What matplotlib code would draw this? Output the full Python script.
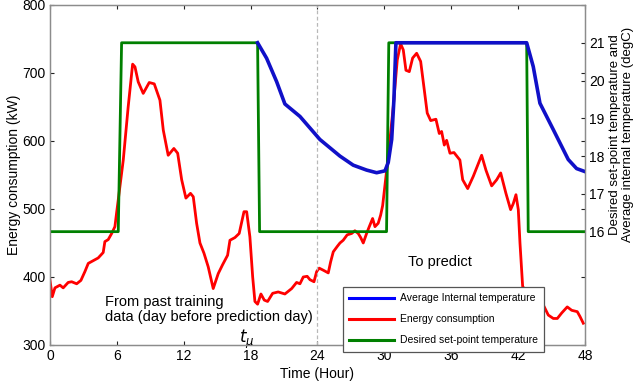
import matplotlib
matplotlib.use("Agg")
import matplotlib.pyplot as plt
from matplotlib.lines import Line2D

plt.rcParams['font.family'] = ['Liberation Sans', 'DejaVu Sans']

# Energy consumption (kW) vs time (hour)
energy_t = [0.00, 0.21, 0.45, 0.90, 1.19, 1.64, 1.95, 2.40, 2.78, 3.14, 3.44, 3.88, 4.33, 4.78,
            4.93, 5.23, 5.54, 5.83, 5.98, 6.58, 7.02, 7.42, 7.63, 7.92, 8.37, 8.91, 9.36, 9.87,
            10.17, 10.61, 11.12, 11.46, 11.82, 12.20, 12.61, 12.86, 13.16, 13.46, 13.82, 14.20,
            14.65, 15.10, 15.49, 15.94, 16.15, 16.60, 16.98, 17.41, 17.65, 17.94, 18.19, 18.39,
            18.63, 18.93, 19.23, 19.53, 19.98, 20.48, 21.08, 21.69, 22.13, 22.43, 22.73, 23.08,
            23.33, 23.69, 23.93, 24.16, 24.52, 24.97, 25.18, 25.42, 25.78, 26.02, 26.31, 26.67,
            27.07, 27.36, 27.66, 27.88, 28.11, 28.41, 28.65, 28.95, 29.16, 29.45, 29.67, 29.85,
            30.35, 30.80, 31.16, 31.46, 31.70, 31.94, 32.24, 32.54, 32.90, 33.26, 33.55, 33.85,
            34.16, 34.63, 34.93, 35.14, 35.38, 35.59, 35.89, 36.25, 36.78, 37.03, 37.48, 37.98,
            38.73, 39.12, 39.63, 40.08, 40.44, 40.91, 41.33, 41.57, 41.81, 42.02, 42.17, 42.41,
            43.24, 44.20, 44.71, 45.16, 45.52, 45.91, 46.41, 46.81, 47.31, 47.55, 47.85]
energy_kw = [396, 371, 384, 388, 384, 392, 393, 390, 395, 408, 420, 424, 428, 436,
             452, 455, 464, 474, 494, 572, 650, 713, 709, 687, 670, 686, 684, 660,
             616, 579, 589, 582, 543, 516, 523, 518, 479, 450, 435, 415,
             383, 405, 418, 432, 454, 458, 464, 496, 496, 459, 400, 364,
             360, 375, 366, 364, 376, 378, 375, 383, 392, 390, 400, 401,
             396, 393, 408, 413, 410, 406, 422, 437, 445, 450, 454, 462,
             464, 468, 464, 458, 450, 464, 474, 486, 474, 479, 491, 505,
             577, 650, 719, 743, 734, 704, 702, 722, 729, 717, 680, 641,
             630, 632, 611, 614, 594, 601, 582, 583, 572, 543, 530, 548,
             579, 557, 534, 543, 553, 523, 499, 508, 521, 499, 450, 386,
             368, 361, 344, 339, 339, 347, 356, 351, 349, 342, 332]

# Average internal temperature (degC)
internal_t = [18.63, 19.44, 20.34, 21.08, 22.43, 24.22, 26.02, 27.21, 28.41, 29.31, 30.06,
              30.35, 30.66, 30.86, 31.04, 42.77, 43.36, 43.96, 45.16, 46.50, 47.25, 48.00]
internal_c = [21.0, 20.59, 19.97, 19.38, 19.05, 18.44, 18.0, 17.76, 17.63, 17.56, 17.61,
              17.83, 18.44, 19.49, 21.0, 21.0, 20.37, 19.4, 18.7, 17.91, 17.67, 17.59]

# Desired set-point temperature (degC)
setpoint_t = [0, 6.13, 6.43, 18.63, 18.81, 30.2, 30.4, 42.77, 42.91, 48]
setpoint_c = [16, 16, 21, 21, 16, 16, 21, 21, 16, 16]

xticks = [0, 6, 12, 18, 24, 30, 36, 42, 48]
left_ticks = [300, 400, 500, 600, 700, 800]
right_ticks = [16, 17, 18, 19, 20, 21]

fig = plt.figure(figsize=(6.4, 3.84), dpi=100)
ax1 = fig.add_axes([0.078, 0.1016, 0.836, 0.8854])
ax2 = ax1.twinx()

c_red = '#ff0000'
c_green = '#008000'
c_blue = '#1010c8'

ax1.plot(energy_t, energy_kw, color=c_red, lw=2.0)
ax1.axvline(24, color='#b8b8b8', lw=0.9, ls=(0, (3, 2)))
ax2.plot(setpoint_t, setpoint_c, color=c_green, lw=2.0)
ax2.plot(internal_t, internal_c, color=c_blue, lw=2.6)

ax1.set_xlim(0, 48)
ax1.set_ylim(300, 800)
ax2.set_ylim(13, 22)
ax1.set_xticks(xticks)
ax1.set_yticks(left_ticks)
ax2.set_yticks(right_ticks)

fs = 10
ax1.tick_params(direction='in', top=True, right=True, length=3, labelsize=fs, color='#222222', pad=3)
ax2.tick_params(direction='in', length=3, labelsize=fs, color='#222222', pad=3)
for ax in (ax1, ax2):
    for s in ax.spines.values():
        s.set_color('#8c8c8c')
        s.set_linewidth(0.9)

ax1.set_xlabel('Time (Hour)', fontsize=fs, labelpad=3)
ax1.set_ylabel('Energy consumption (kW)', fontsize=fs, labelpad=1)
ax2.set_ylabel('Desired set-point temperature and\nAverage internal temperature (degC)',
               fontsize=9.5, linespacing=1.15)
ax2.yaxis.set_label_coords(1.045, 0.62)

ax1.text(4.98, 352, 'From past training\ndata (day before prediction day)', fontsize=10.5,
         va='center', ha='left', linespacing=1.15)
ax1.text(32.15, 422, 'To predict', fontsize=10.5, va='center', ha='left')
ax1.text(17.65, 303.5, r'$t_{\mu}$', fontsize=12, ha='center', va='baseline')

handles = [Line2D([], [], color='#0000ff', lw=2.2),
           Line2D([], [], color=c_red, lw=2.2),
           Line2D([], [], color=c_green, lw=2.2)]
labels = ['Average Internal temperature', 'Energy consumption', 'Desired set-point temperature']
leg = ax2.legend(handles, labels, loc='upper left', bbox_to_anchor=(0.547, 0.170),
                 fontsize=7.5, frameon=True, fancybox=False, framealpha=1,
                 edgecolor='#555555', handlelength=4.3, handletextpad=0.6,
                 labelspacing=1.05, borderpad=0.6, borderaxespad=0)
leg.get_frame().set_linewidth(0.9)

fig.savefig('out.png', dpi=100)
